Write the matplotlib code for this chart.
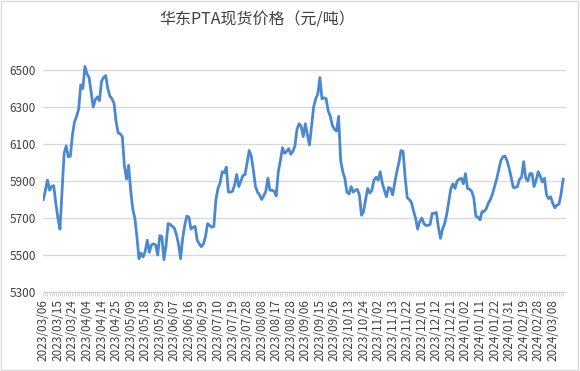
import matplotlib
matplotlib.use("Agg")
import matplotlib.pyplot as plt
from matplotlib.patches import Rectangle

plt.rcParams['font.family'] = ['Noto Sans CJK SC', 'DejaVu Sans']

#
# Chart text and data.
#
title = "华东PTA现货价格（元/吨）"

tick_labels = [
    "2023/03/06", "2023/03/15", "2023/03/24", "2023/04/04", "2023/04/14",
    "2023/04/25", "2023/05/09", "2023/05/18", "2023/05/29", "2023/06/07",
    "2023/06/16", "2023/06/29", "2023/07/10", "2023/07/19", "2023/07/28",
    "2023/08/08", "2023/08/17", "2023/08/28", "2023/09/06", "2023/09/15",
    "2023/09/26", "2023/10/13", "2023/10/24", "2023/11/02", "2023/11/13",
    "2023/11/22", "2023/12/01", "2023/12/12", "2023/12/21", "2024/01/02",
    "2024/01/11", "2024/01/22", "2024/01/31", "2024/02/19", "2024/02/28",
    "2024/03/08",
]
# one label every 7 trading days
label_step = 7

# daily spot price, yuan/ton (trading days)
price = [
    5800, 5850, 5905, 5850, 5870, 5875, 5780, 5700, 5640, 5850,
    6050, 6090, 6030, 6035, 6150, 6220, 6250, 6290, 6420, 6400,
    6520, 6480, 6460, 6380, 6300, 6340, 6355, 6335, 6440, 6460,
    6470, 6400, 6360, 6345, 6320, 6220, 6160, 6155, 6140, 5980,
    5910, 5985, 5850, 5750, 5700, 5600, 5480, 5510, 5490, 5520,
    5580, 5515, 5555, 5560, 5555, 5500, 5605, 5600, 5475, 5550,
    5670, 5665, 5655, 5645, 5610, 5560, 5480, 5590, 5660, 5710,
    5705, 5640, 5650, 5655, 5580, 5560, 5545, 5560, 5600, 5670,
    5660, 5650, 5655, 5800, 5860, 5890, 5950, 5945, 5975, 5840,
    5840, 5845, 5880, 5935, 5870, 5900, 5930, 5935, 6000, 6065,
    6035, 5960, 5870, 5840, 5825, 5800, 5820, 5845, 5915, 5850,
    5850, 5845, 5820, 5950, 6010, 6080, 6050, 6060, 6075, 6045,
    6060, 6090, 6180, 6210, 6195, 6140, 6210, 6150, 6095, 6200,
    6300, 6345, 6370, 6460, 6345, 6350, 6345, 6280, 6250, 6200,
    6180, 6170, 6250, 6010, 5950, 5915, 5840, 5830, 5870, 5840,
    5850, 5855, 5825, 5715, 5735, 5800, 5860, 5835, 5850, 5905,
    5920, 5905, 5950, 5890, 5850, 5815, 5865, 5860, 5825, 5890,
    5950, 6000, 6065, 6060, 5920, 5810, 5800, 5785, 5740, 5700,
    5640, 5680, 5700, 5670, 5660, 5660, 5665, 5725, 5725, 5730,
    5650, 5590, 5640, 5670, 5720, 5790, 5860, 5885, 5860, 5900,
    5910, 5915, 5885, 5940, 5860, 5855, 5845, 5810, 5710, 5705,
    5690, 5735, 5735, 5750, 5780, 5800, 5830, 5870, 5910, 5960,
    6010, 6030, 6035, 6010, 5970, 5920, 5865, 5865, 5870, 5910,
    5920, 6005, 5915, 5900, 5940, 5940, 5870, 5905, 5950, 5925,
    5895, 5915, 5825, 5805, 5815, 5780, 5755, 5770, 5775, 5830,
    5910,
]

y_ticks = [5300, 5500, 5700, 5900, 6100, 6300, 6500]

#
# Figure and plot area
#
fig = plt.figure(figsize=(5.8, 3.71), dpi=100)
ax = fig.add_axes([0.074, 0.213, 0.902, 0.623])

x = list(range(len(price)))
ax.plot(x, price, color="#4a89cf", linewidth=2.0, solid_joinstyle="round", zorder=3)

ax.set_xlim(-0.2, 251.4)
ax.set_ylim(5300, 6550)
ax.set_yticks(y_ticks)
ax.set_yticklabels([str(v) for v in y_ticks], fontsize=8.5, color="#404040")

ax.set_xticks(list(range(0, len(tick_labels) * label_step, label_step)))
ax.set_xticklabels(tick_labels, rotation=90, fontsize=8.5, color="#404040")
ax.set_xticks(x, minor=True)
ax.tick_params(axis="x", which="both", length=3, color="#d0d0d0", width=0.6, pad=2)
ax.tick_params(axis="y", length=0, pad=5)

ax.grid(axis="y", color="#d9d9d9", linewidth=1.0)
ax.set_axisbelow(True)
for side in ["left", "right", "top"]:
    ax.spines[side].set_visible(False)
ax.spines["bottom"].set_color("#d0d0d0")
ax.spines["bottom"].set_linewidth(0.8)

# title sits a bit left of the plot centre, as in the reference
fig.text(0.443, 0.945, title, ha="center", va="center", fontsize=11.5, color="#404040")

# light chart border
fig.patches.append(Rectangle((0.002, 0.003), 0.994, 0.994, transform=fig.transFigure,
                             fill=False, edgecolor="#d9d9d9", linewidth=1.0))

fig.savefig("out.png", dpi=100)
